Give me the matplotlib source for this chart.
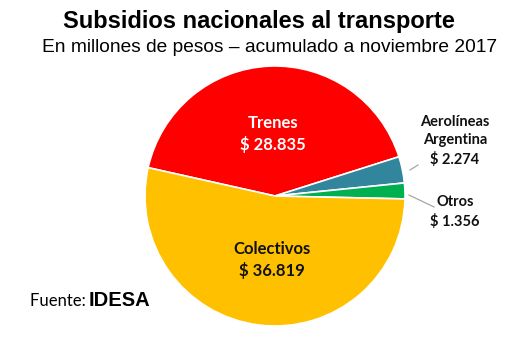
import matplotlib.pyplot as plt

labels = ["Trenes", "Aerolíneas\nArgentina", "Otros", "Colectivos"]
values = [28835, 2274, 1356, 36819]
value_text = ["$ 28.835", "$ 2.274", "$ 1.356", "$ 36.819"]
colors = ["#FF0000", "#31859C", "#00B050", "#FFC000"]
explode = [0, 5, 5, 0]

fig = plt.figure(figsize=(5.17, 3.47), dpi=100)
ax = fig.add_axes([0, 0, 1, 1])

cx, cy, r = 275, 151, 130
ax.pie(values, colors=colors, explode=[e / r for e in explode], startangle=167.4,
       counterclock=False, center=(cx, cy), radius=r,
       wedgeprops=dict(edgecolor="white", linewidth=1.2), frame=True)
ax.set_xlim(0, 517)
ax.set_ylim(0, 347)
ax.set_aspect("equal")
ax.axis("off")

lbl = dict(family="Lato", fontweight="bold", ha="center", va="center", linespacing=1.35)
ax.text(273, 213, labels[0] + "\n" + value_text[0], color="white", fontsize=12, **lbl)
ax.text(272, 87, labels[3] + "\n" + value_text[3], color="#111111", fontsize=12, **lbl)
ax.text(455, 206, labels[1] + "\n" + value_text[1], color="#111111", fontsize=10.5, **lbl)
ax.text(455, 135, labels[2] + "\n" + value_text[2], color="#111111", fontsize=10.5, **lbl)

ax.plot([410, 418], [177, 182], color="#a6a6a6", lw=0.9)
ax.plot([409, 434], [152, 140], color="#a6a6a6", lw=0.9)

fig.text(0.5, 0.937, "Subsidios nacionales al transporte", ha="center", va="center",
         family="Liberation Sans", fontweight="bold", fontsize=17)
fig.text(0.522, 0.863, "En millones de pesos – acumulado a noviembre 2017", ha="center",
         va="center", family="Liberation Sans", fontsize=13.8)

ax.text(30, 46, "Fuente: ", family="Lato", fontsize=12, ha="left", va="center")
ax.text(89, 46, "IDESA", family="Liberation Sans", fontweight="bold", fontsize=14.5,
        ha="left", va="center")

fig.savefig("out.png", dpi=100)
